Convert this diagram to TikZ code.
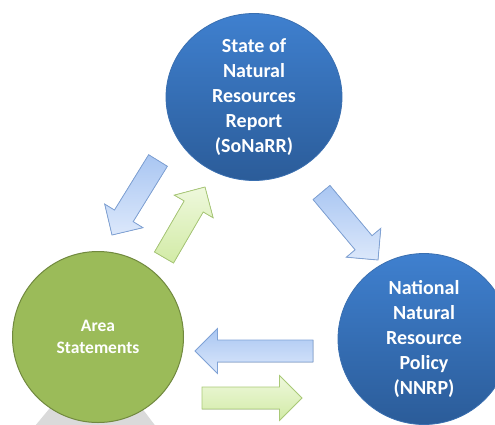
\documentclass[tikz,border=0pt]{standalone}
\usepackage{fontspec}
\setmainfont{Carlito}
\usetikzlibrary{calc,shapes.geometric}
\definecolor{bluetop}{HTML}{3F80CF}
\definecolor{bluebot}{HTML}{2B5C99}
\definecolor{blueedge}{HTML}{3A6FB0}
\definecolor{greenfill}{HTML}{9BBB59}
\definecolor{greenedge}{HTML}{71893F}
\definecolor{abluetop}{HTML}{A9C6F2}
\definecolor{ablubot}{HTML}{DCE8FB}
\definecolor{abluedge}{HTML}{7FA2D6}
\definecolor{agrntop}{HTML}{EEF8DC}
\definecolor{agrnbot}{HTML}{D2EBA6}
\definecolor{agrnedge}{HTML}{A9C977}
\definecolor{shadowgrey}{HTML}{DADADA}
\newcommand{\blkarrow}[3]{%
  \coordinate (ba-h) at ($(#3)!22.5pt!(#2)$);
  \filldraw[#1]
    ($(#2)!11pt!90:(#3)$) -- ($(ba-h)!11pt!90:(#3)$) -- ($(ba-h)!22.5pt!90:(#3)$)
    -- (#3) -- ($(ba-h)!22.5pt!-90:(#3)$) -- ($(ba-h)!11pt!-90:(#3)$)
    -- ($(#2)!11pt!-90:(#3)$) -- cycle;
}
\begin{document}
\begin{tikzpicture}[x=1pt,y=-1pt,
  bluecircle/.style={ellipse,draw=blueedge,line width=0.8pt,top color=bluetop,bottom color=bluebot,
    text=white,font=\fontsize{20}{25}\selectfont\bfseries,align=center,inner sep=0pt},
  greencircle/.style={circle,draw=greenedge,line width=1pt,fill=greenfill,minimum size=171pt,
    text=white,font=\fontsize{17.5}{22}\selectfont\bfseries,align=center,inner sep=0pt},
  bluearrow/.style={draw=abluedge,line width=0.8pt,top color=abluetop,bottom color=ablubot,line join=miter},
  greenarrow/.style={draw=agrnedge,line width=0.8pt,top color=agrntop,bottom color=agrnbot,line join=miter}]
\useasboundingbox (0,0) rectangle (495,424);
\begin{scope}
\clip (0,0) rectangle (495,424);
% grey shadow below green circle
\fill[shadowgrey] (98,350) -- (30,432) -- (160,432) -- cycle;
% circles
\node[bluecircle,minimum width=176pt,minimum height=167pt] (sonarr) at (254,97)
  {State of\\Natural\\Resources\\Report\\(SoNaRR)};
\node[bluecircle,minimum width=172pt,minimum height=171pt] (nnrp) at (424,339)
  {National\\Natural\\Resource\\Policy\\(NNRP)};
\node[greencircle] (area) at (98,337) {Area\\Statements};
% arrow end points
\coordinate (a1t) at (158,160.5); \coordinate (a1h) at (112,235);
\coordinate (a2t) at (164,257.5); \coordinate (a2h) at (205,187);
\coordinate (a3t) at (321.5,192.5); \coordinate (a3h) at (378,260);
\coordinate (a4t) at (313,351); \coordinate (a4h) at (195,351);
\coordinate (a5t) at (202,398); \coordinate (a5h) at (302,398);
\blkarrow{bluearrow}{a1t}{a1h}
\blkarrow{greenarrow}{a2t}{a2h}
\blkarrow{bluearrow}{a3t}{a3h}
\blkarrow{bluearrow}{a4t}{a4h}
\blkarrow{greenarrow}{a5t}{a5h}
\end{scope}
\end{tikzpicture}
\end{document}
